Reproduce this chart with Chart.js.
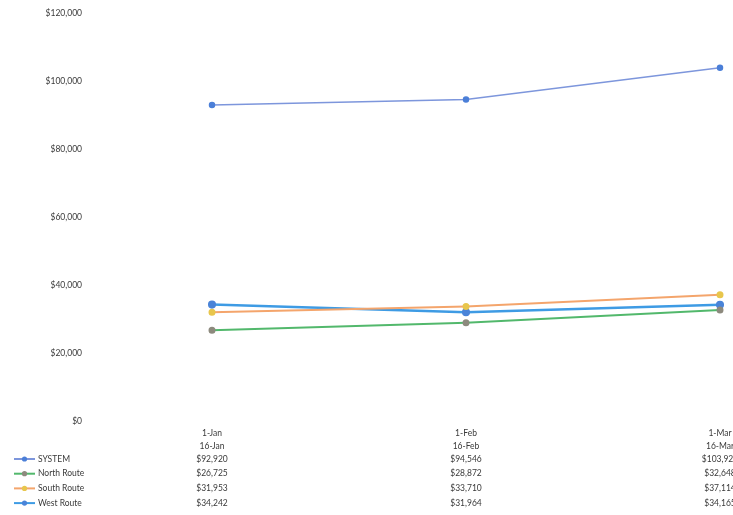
<!DOCTYPE html>
<html>
<head>
<meta charset="utf-8">
<script src="https://cdn.jsdelivr.net/npm/chart.js@4.4.1/dist/chart.umd.min.js"></script>
<style>
  html, body { margin: 0; padding: 0; background: #ffffff; overflow: hidden; }
  #wrap { width: 733px; height: 515px; }
</style>
</head>
<body>
<div id="wrap"><canvas id="c" width="733" height="515"></canvas></div>
<script>
// Period labels (two lines per category)
const periodStart = ['1-Jan', '1-Feb', '1-Mar'];
const periodMid = ['16-Jan', '16-Feb', '16-Mar'];

// Revenue by route
const systemValues = [92920, 94546, 103926];
const northValues = [26725, 28872, 32648];
const southValues = [31953, 33710, 37114];
const westValues = [34242, 31964, 34165];

const seriesNames = ['SYSTEM', 'North Route', 'South Route', 'West Route'];

// Y axis ticks
const yTicks = [0, 20000, 40000, 60000, 80000, 100000, 120000];

const FONT = "Lato, 'Liberation Sans', sans-serif";
const TEXT = '#3a3a3a';

const money = v => '$' + v.toLocaleString('en-US');

// Data table drawn under the axis: legend key + value per category
const dataTable = {
  id: 'dataTable',
  afterDraw(chart) {
    const ctx = chart.ctx;
    const xs = chart.scales.x;
    const base = chart.chartArea.bottom;
    ctx.save();
    ctx.font = '8.5px ' + FONT;
    ctx.textBaseline = 'middle';
    chart.data.datasets.forEach((ds, i) => {
      const y = base + 38 + i * 14.7;
      // legend key
      ctx.strokeStyle = ds.borderColor;
      ctx.lineWidth = 2;
      ctx.beginPath();
      ctx.moveTo(14, y);
      ctx.lineTo(35, y);
      ctx.stroke();
      ctx.fillStyle = ds.pointBackgroundColor;
      ctx.beginPath();
      ctx.arc(24.5, y, 2.6, 0, Math.PI * 2);
      ctx.fill();
      ctx.fillStyle = TEXT;
      ctx.textAlign = 'left';
      ctx.fillText(ds.label, 38, y);
      // values
      ctx.textAlign = 'center';
      ds.data.forEach((v, j) => {
        ctx.fillText(money(v), xs.getPixelForValue(j), y);
      });
    });
    ctx.restore();
  }
};

const labels = periodStart.map((s, i) => [s, periodMid[i]]);

new Chart(document.getElementById('c'), {
  type: 'line',
  data: {
    labels: labels,
    datasets: [
      { label: seriesNames[0], data: systemValues, borderColor: '#7d96dc', borderWidth: 1.5,
        pointBackgroundColor: '#4b7fd8', pointBorderColor: '#4b7fd8', pointRadius: 2.5 },
      { label: seriesNames[1], data: northValues, borderColor: '#52b86c', borderWidth: 2,
        pointBackgroundColor: '#8d8a7e', pointBorderColor: '#8d8a7e', pointRadius: 2.5 },
      { label: seriesNames[2], data: southValues, borderColor: '#f4a56c', borderWidth: 2,
        pointBackgroundColor: '#e8c64c', pointBorderColor: '#e8c64c', pointRadius: 2.5 },
      { label: seriesNames[3], data: westValues, borderColor: '#3e9be4', borderWidth: 2.5,
        pointBackgroundColor: '#4a84d8', pointBorderColor: '#4a84d8', pointRadius: 2.8 }
    ]
  },
  options: {
    responsive: false,
    animation: false,
    layout: { padding: { top: 13, right: 13, bottom: 0, left: 0 } },
    plugins: { legend: { display: false }, tooltip: { enabled: false }, title: { display: false } },
    elements: { line: { tension: 0 } },
    scales: {
      x: {
        offset: false,
        grid: { display: false, drawTicks: false },
        border: { display: false },
        ticks: {
          color: TEXT,
          font: { family: FONT, size: 8.5, lineHeight: 1.5 },
          padding: 6,
          maxRotation: 0,
          autoSkip: false
        },
        afterFit(scale) {
          scale.height = 94;
          scale.paddingLeft = 0;
          scale.paddingRight = 0;
        }
      },
      y: {
        min: 0,
        max: 120000,
        grid: { display: false, drawTicks: false },
        border: { display: false },
        afterBuildTicks(scale) {
          scale.ticks = yTicks.map(v => ({ value: v }));
        },
        ticks: {
          color: TEXT,
          font: { family: FONT, size: 8.5 },
          padding: 130,
          callback: v => money(v)
        },
        afterFit(scale) {
          scale.width = 212;
          scale.paddingTop = 0;
          scale.paddingBottom = 0;
        }
      }
    }
  },
  plugins: [dataTable]
});
</script>
</body>
</html>
